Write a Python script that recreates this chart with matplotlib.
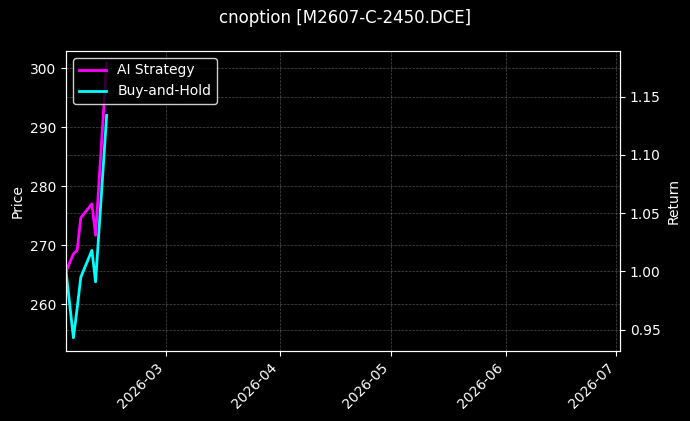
import datetime as dt
import matplotlib
matplotlib.use("Agg")
import matplotlib.pyplot as plt
import matplotlib.dates as mdates

plt.style.use("dark_background")

# data
dates = [dt.date(2026, 2, d) for d in (2, 4, 5, 6, 9, 10, 13)]
ai_strategy = [1.000, 1.015, 1.018, 1.046, 1.058, 1.031, 1.179]
buy_hold = [1.000, 0.943, 0.968, 0.995, 1.018, 0.991, 1.134]

price_range = (252.07, 302.94)
return_range = (0.9316, 1.1893)
x_range = (dt.date(2026, 2, 2), dt.date(2026, 7, 2))

fig = plt.figure(figsize=(6.9, 4.21), dpi=100)
ax = fig.add_axes([0.0957, 0.1663, 0.8029, 0.7126])
ax2 = ax.twinx()

ax.set_ylim(*price_range)
ax.set_ylabel("Price")
ax.grid(True, linestyle="--", linewidth=0.5, alpha=0.3)

ax2.plot(dates, ai_strategy, color="magenta", linewidth=2, label="AI Strategy")
ax2.plot(dates, buy_hold, color="cyan", linewidth=2, label="Buy-and-Hold")
ax2.set_ylim(*return_range)
ax2.set_ylabel("Return")
ax2.grid(True, linestyle="--", linewidth=0.5, alpha=0.3)

ax.set_xlim(*x_range)
ax.xaxis.set_major_locator(mdates.MonthLocator())
ax.xaxis.set_major_formatter(mdates.DateFormatter("%Y-%m"))
for lbl in ax.get_xticklabels():
    lbl.set_rotation(45)
    lbl.set_ha("right")

ax2.legend(loc="upper left", facecolor="black", edgecolor="white")
fig.suptitle("cnoption [M2607-C-2450.DCE]", fontsize=12, y=0.978)

fig.savefig("out.png", dpi=100)
